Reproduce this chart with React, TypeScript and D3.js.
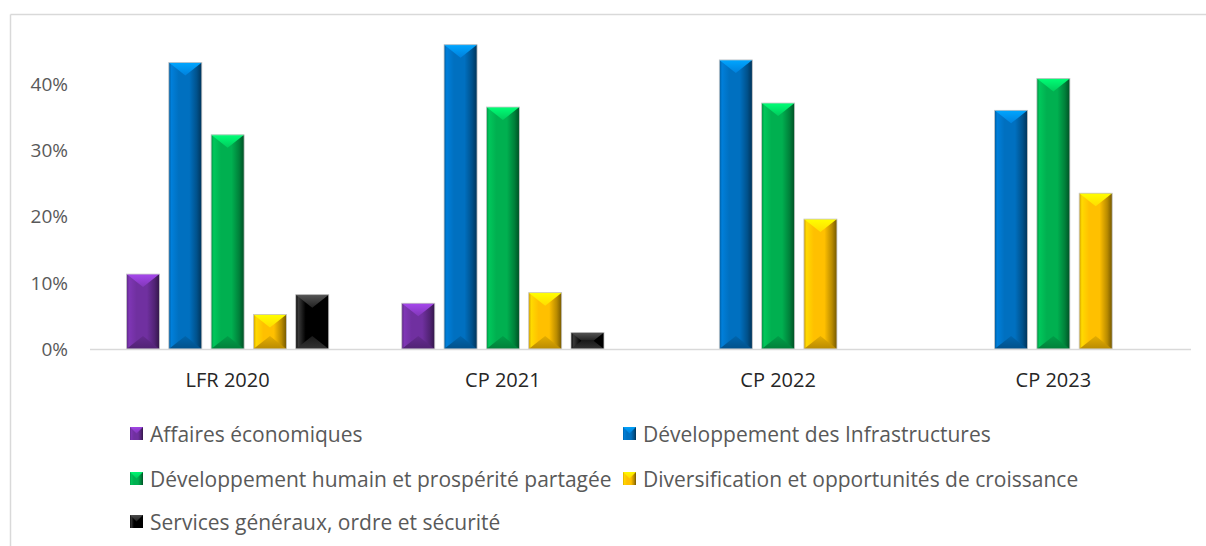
import React from 'react';
import * as d3 from 'd3';

const categories = ['LFR 2020', 'CP 2021', 'CP 2022', 'CP 2023'];
const seriesNames = [
  'Affaires économiques',
  'Développement des Infrastructures',
  'Développement humain et prospérité partagée',
  'Diversification et opportunités de croissance',
  'Services généraux, ordre et sécurité',
];
const affaires: (number | null)[] = [0.113, 0.069, null, null];
const infrastructures: (number | null)[] = [0.432, 0.459, 0.436, 0.36];
const humain: (number | null)[] = [0.323, 0.365, 0.371, 0.408];
const diversification: (number | null)[] = [0.052, 0.085, 0.196, 0.235];
const services: (number | null)[] = [0.082, 0.025, null, null];
const yTicks = [0, 0.1, 0.2, 0.3, 0.4];
const colors = ['#7030A0', '#0070C0', '#00B050', '#FFC000', '#000000'];

const seriesValues = [affaires, infrastructures, humain, diversification, services];

const W = 1206;
const H = 546;
const FONT = '"Open Sans", "Noto Sans", sans-serif';
const TEXT = '#595959';
const GRID = '#d9d9d9';

export default function App() {
  const x0 = d3.scaleBand<string>().domain(categories).range([90, 1191]).padding(0);
  const x1 = d3
    .scaleBand<string>()
    .domain(seriesNames)
    .range([36.5, x0.bandwidth() - 36.5])
    .paddingInner(0.22);
  const y = d3.scaleLinear().domain([0, 0.5]).range([349, 17.5]);
  const fmt = d3.format('.0%');

  const legendPos = [
    { x: 130, y: 434 },
    { x: 623, y: 434 },
    { x: 130, y: 479 },
    { x: 623, y: 479 },
    { x: 130, y: 522 },
  ];

  const grad = (c: string, i: number) => {
    const base = d3.color(c)!;
    const light = i === 4 ? '#3a3a3a' : base.brighter(0.35).formatHex();
    const dark = i === 4 ? '#000000' : base.darker(2.2).formatHex();
    const mid = base.formatHex();
    return (
      <linearGradient id={`g${i}`} key={`g${i}`} x1="0" x2="1" y1="0" y2="0">
        <stop offset="0" stopColor={base.darker(0.6).formatHex()} />
        <stop offset="0.08" stopColor={light} />
        <stop offset="0.3" stopColor={mid} />
        <stop offset="0.62" stopColor={mid} />
        <stop offset="0.85" stopColor={base.darker(0.9).formatHex()} />
        <stop offset="1" stopColor={dark} />
      </linearGradient>
    );
  };
  const topGrad = (c: string, i: number) => {
    const base = d3.color(c)!;
    const t = i === 4 ? '#555555' : base.brighter(1.1).formatHex();
    const b = i === 4 ? '#222222' : base.brighter(0.4).formatHex();
    return (
      <linearGradient id={`t${i}`} key={`t${i}`} x1="0" x2="0" y1="0" y2="1">
        <stop offset="0" stopColor={t} />
        <stop offset="1" stopColor={b} />
      </linearGradient>
    );
  };
  const botGrad = (c: string, i: number) => {
    const base = d3.color(c)!;
    const t = i === 4 ? '#1a1a1a' : base.darker(0.3).formatHex();
    const b = i === 4 ? '#333333' : base.darker(0.9).formatHex();
    return (
      <linearGradient id={`b${i}`} key={`b${i}`} x1="0" x2="0" y1="0" y2="1">
        <stop offset="0" stopColor={t} />
        <stop offset="1" stopColor={b} />
      </linearGradient>
    );
  };

  const bars: React.ReactNode[] = [];
  categories.forEach((cat, ci) => {
    seriesNames.forEach((s, si) => {
      const v = seriesValues[si][ci];
      if (v == null) return;
      const bx = (x0(cat) as number) + (x1(s) as number);
      const bw = x1.bandwidth();
      const top = y(v);
      const bot = y(0);
      const h = bot - top;
      const depth = Math.min(13, h / 2);
      const k = bw / 2 / 13;
      const inset = depth * k;
      bars.push(
        <g key={`${ci}-${si}`}>
          <rect x={bx} y={top} width={bw} height={h} fill={`url(#g${si})`} />
          <polygon
            points={`${bx},${top} ${bx + bw},${top} ${bx + bw - inset},${top + depth} ${bx + inset},${top + depth}`}
            fill={`url(#t${si})`}
          />
          <polygon
            points={`${bx},${bot} ${bx + bw},${bot} ${bx + bw - inset},${bot - depth} ${bx + inset},${bot - depth}`}
            fill={`url(#b${si})`}
          />
          <rect x={bx} y={top} width={bw} height={h} fill="none" stroke="#c8c8c8" strokeWidth={0.8} />
        </g>
      );
    });
  });

  return (
    <svg width={W} height={H} style={{ display: 'block', position: 'absolute', left: 0, top: 0 }}>
      <defs>
        {colors.map((c, i) => grad(c, i))}
        {colors.map((c, i) => topGrad(c, i))}
        {colors.map((c, i) => botGrad(c, i))}
      </defs>
      <rect x={0} y={0} width={W} height={H} fill="#ffffff" />
      <line x1={10.5} y1={14.5} x2={W} y2={14.5} stroke={GRID} strokeWidth={1.5} />
      <line x1={10.5} y1={14.5} x2={10.5} y2={H} stroke={GRID} strokeWidth={1.5} />

      {yTicks.map((t) => (
        <text
          key={t}
          x={68}
          y={y(t)}
          dy="0.36em"
          textAnchor="end"
          fontFamily={FONT}
          fontSize={19}
          fill={TEXT}
        >
          {fmt(t)}
        </text>
      ))}

      {bars}

      <line x1={90} y1={349.5} x2={1191} y2={349.5} stroke={GRID} strokeWidth={1.5} />

      {categories.map((c) => (
        <text
          key={c}
          x={(x0(c) as number) + x0.bandwidth() / 2}
          y={380}
          dy="0.36em"
          textAnchor="middle"
          fontFamily={FONT}
          fontSize={20}
          fill="#262626"
        >
          {c}
        </text>
      ))}

      {seriesNames.map((s, i) => (
        <g key={s} transform={`translate(${legendPos[i].x},${legendPos[i].y})`}>
          <rect x={0} y={-7} width={13} height={13} fill={`url(#g${i})`} />
          <polygon points="0,-7 13,-7 6.5,-0.5" fill={`url(#t${i})`} opacity={0.9} />
          <text x={20} y={0} dy="0.36em" fontFamily={FONT} fontSize={21} fill={TEXT}>
            {s}
          </text>
        </g>
      ))}
    </svg>
  );
}
